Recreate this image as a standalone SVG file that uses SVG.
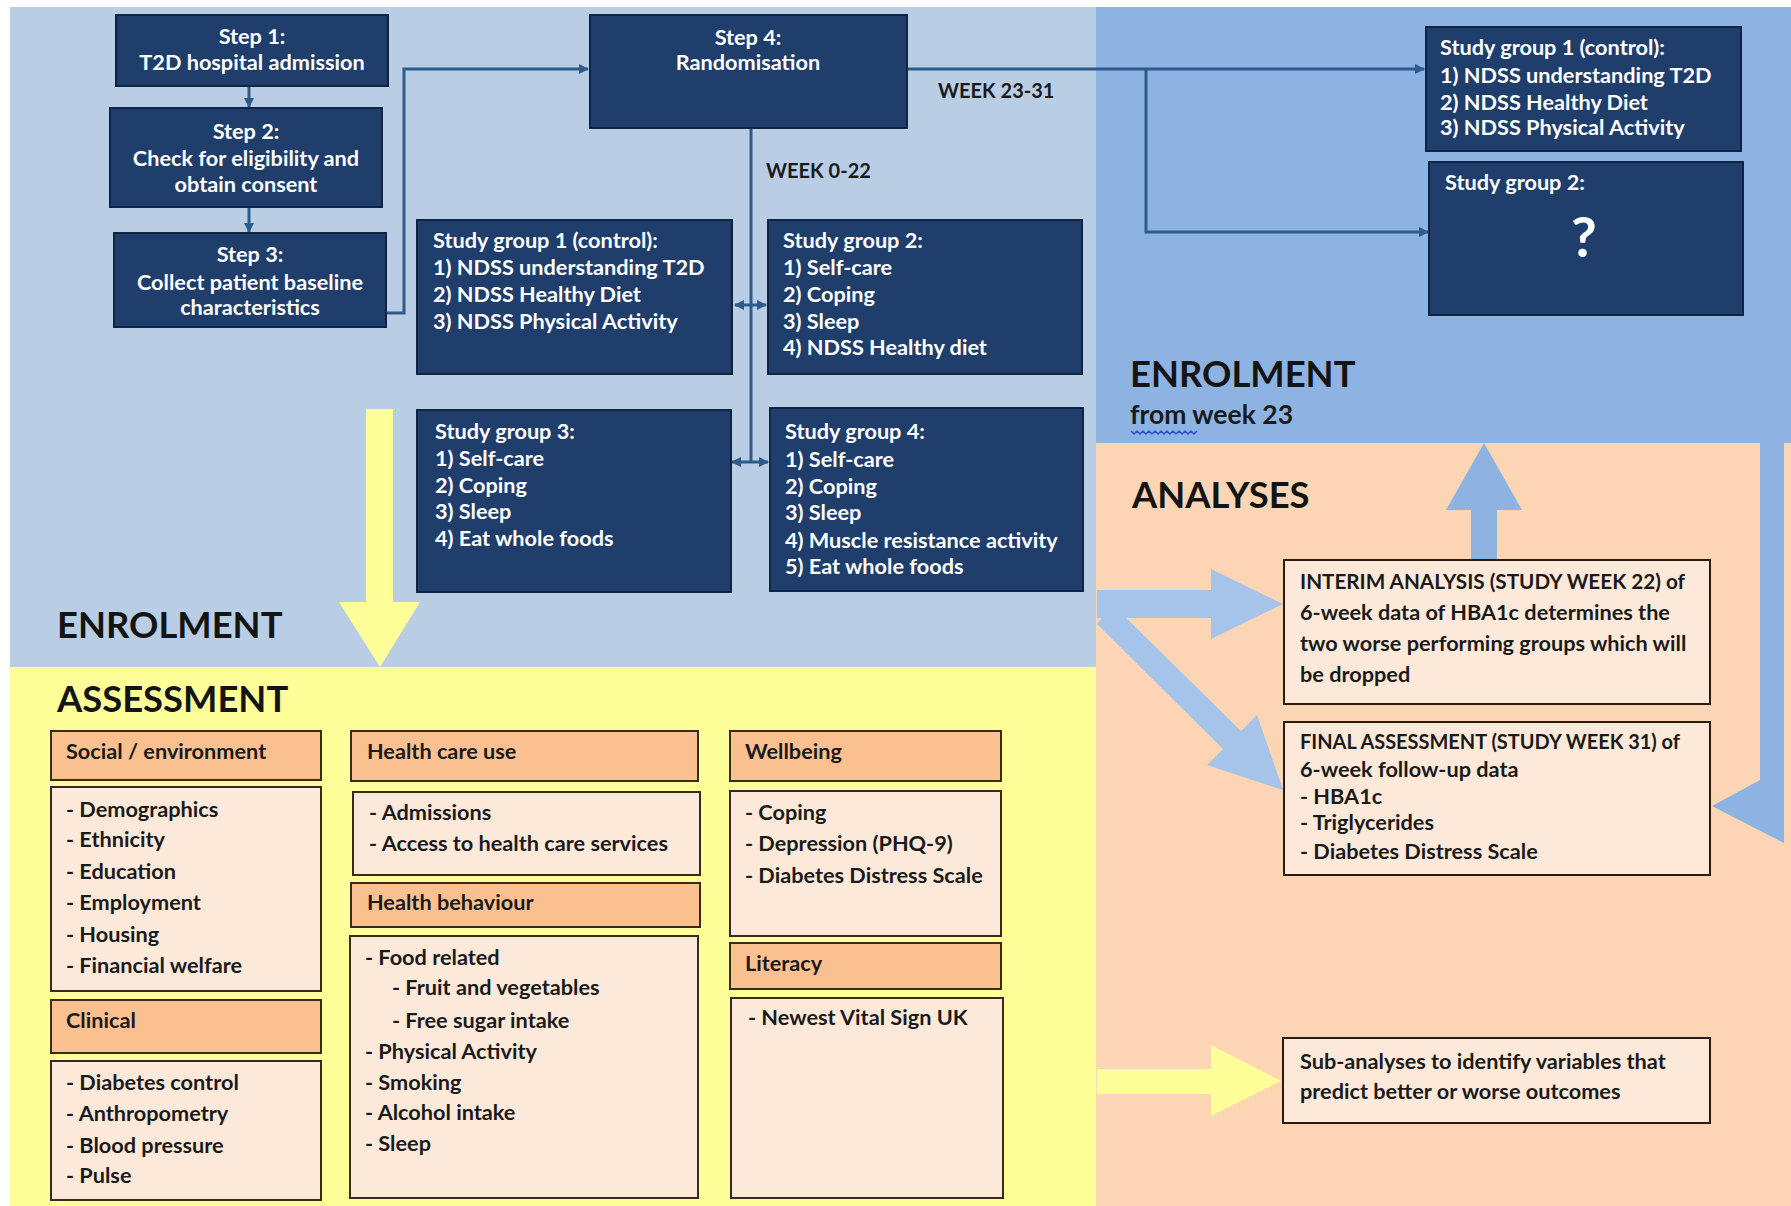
<svg xmlns="http://www.w3.org/2000/svg" width="1791" height="1206" viewBox="0 0 1791 1206">
<defs>
<style>
.lb{fill:#b9cde5}
.mb{fill:#8db3e2}
.pe{fill:#fcd5b5}
.ye{fill:#ffff99}
.dk{fill:#1f3e6c;stroke:#0f2542;stroke-width:2}
.hd{fill:#fac090;stroke:#3a2a1c;stroke-width:2}
.bd{fill:#fde9d9;stroke:#3a2a1c;stroke-width:2}
.ab{fill:#fde9d9;stroke:#2a1a10;stroke-width:2}
text{font-family:Lato,"Open Sans","Liberation Sans",sans-serif;font-weight:bold}
.w{fill:#ffffff;font-size:21.7px}
.wc{fill:#ffffff;font-size:21.7px;text-anchor:middle}
.k{fill:#1a1a1a;font-size:21.7px}
.wk{fill:#1a1a1a;font-size:20px}
.big{fill:#141414;font-size:36.4px}
.conn{fill:none;stroke:#2f5b8a;stroke-width:3}
.yarr{fill:#ffff99}
.barr{fill:#a6c4e9}
.barr2{fill:#8db3e2}
</style>
<marker id="ah" viewBox="0 0 10 10" refX="9" refY="5" markerWidth="10" markerHeight="10" markerUnits="userSpaceOnUse" orient="auto-start-reverse">
<path d="M0,0 L10,5 L0,10 z" fill="#2f5b8a"/>
</marker>
</defs>

<g id="backgrounds">
<rect x="0" y="0" width="1791" height="1206" fill="#ffffff"/>
<rect class="lb" x="10" y="7" width="1087" height="661"/>
<rect class="mb" x="1096" y="7" width="695" height="436"/>
<rect class="pe" x="1096" y="443" width="695" height="763"/>
<rect class="ye" x="10" y="667" width="1086" height="539"/>
</g>

<g id="block-arrows">
<polygon class="yarr" points="366,409 393,409 393,602 420,602 380,667 339,602 366,602"/>
<polygon class="yarr" points="1097,1069 1211,1069 1211,1045 1281,1081 1211,1116 1211,1094 1097,1094"/>
<polygon class="barr2" points="1471,559 1497,559 1497,510 1522,510 1484,443 1446,510 1471,510"/>
<polygon class="barr" points="1097,590 1211,590 1211,569 1283,604 1211,639 1211,618 1097,618"/>
<polygon class="barr" points="1112,604 1241,731 1257,715 1283,790 1207,765 1223,749 1097,624"/>
<polygon class="barr2" points="1760,443 1784,443 1784,843 1712,806 1760,780"/>
</g>

<g id="connectors">
<line class="conn" x1="249" y1="86" x2="249" y2="107" marker-end="url(#ah)"/>
<line class="conn" x1="249" y1="207" x2="249" y2="232" marker-end="url(#ah)"/>
<path class="conn" d="M386,313 H404 V69 H588" marker-end="url(#ah)"/>
<path class="conn" d="M907,69 H1424" marker-end="url(#ah)"/>
<path class="conn" d="M1146,69 V232 H1428" marker-end="url(#ah)"/>
<path class="conn" d="M751,128 V462"/>
<line class="conn" x1="735" y1="305" x2="766" y2="305" marker-start="url(#ah)" marker-end="url(#ah)"/>
<line class="conn" x1="732" y1="462" x2="768" y2="462" marker-start="url(#ah)" marker-end="url(#ah)"/>
</g>

<g id="step1">
<rect class="dk" x="116" y="15" width="272" height="71"/>
<text class="wc" x="252" y="44">Step 1:</text>
<text class="wc" x="252" y="70">T2D hospital admission</text>
</g>
<g id="step2">
<rect class="dk" x="110" y="108" width="272" height="99"/>
<text class="wc" x="246" y="139">Step 2:</text>
<text class="wc" x="246" y="166">Check for eligibility and</text>
<text class="wc" x="246" y="192">obtain consent</text>
</g>
<g id="step3">
<rect class="dk" x="114" y="233" width="272" height="94"/>
<text class="wc" x="250" y="262">Step 3:</text>
<text class="wc" x="250" y="290">Collect patient baseline</text>
<text class="wc" x="250" y="315">characteristics</text>
</g>
<g id="step4">
<rect class="dk" x="590" y="15" width="317" height="113"/>
<text class="wc" x="748" y="45">Step 4:</text>
<text class="wc" x="748" y="70">Randomisation</text>
</g>

<g id="week-labels">
<text class="wk" x="938" y="98">WEEK 23-31</text>
<text class="wk" x="766" y="178">WEEK 0-22</text>
</g>

<g id="sg1">
<rect class="dk" x="417" y="220" width="315" height="154"/>
<text class="w" x="433" y="248">Study group 1 (control):</text>
<text class="w" x="433" y="275">1) NDSS understanding T2D</text>
<text class="w" x="433" y="302">2) NDSS Healthy Diet</text>
<text class="w" x="433" y="329">3) NDSS Physical Activity</text>
</g>
<g id="sg2">
<rect class="dk" x="768" y="220" width="314" height="154"/>
<text class="w" x="783" y="248">Study group 2:</text>
<text class="w" x="783" y="275">1) Self-care</text>
<text class="w" x="783" y="302">2) Coping</text>
<text class="w" x="783" y="329">3) Sleep</text>
<text class="w" x="783" y="355">4) NDSS Healthy diet</text>
</g>
<g id="sg3">
<rect class="dk" x="417" y="410" width="314" height="182"/>
<text class="w" x="435" y="439">Study group 3:</text>
<text class="w" x="435" y="466">1) Self-care</text>
<text class="w" x="435" y="493">2) Coping</text>
<text class="w" x="435" y="519">3) Sleep</text>
<text class="w" x="435" y="546">4) Eat whole foods</text>
</g>
<g id="sg4">
<rect class="dk" x="770" y="408" width="313" height="183"/>
<text class="w" x="785" y="439">Study group 4:</text>
<text class="w" x="785" y="467">1) Self-care</text>
<text class="w" x="785" y="494">2) Coping</text>
<text class="w" x="785" y="520">3) Sleep</text>
<text class="w" x="785" y="548">4) Muscle resistance activity</text>
<text class="w" x="785" y="574">5) Eat whole foods</text>
</g>

<g id="sg1-late">
<rect class="dk" x="1426" y="27" width="315" height="124"/>
<text class="w" x="1440" y="55">Study group 1 (control):</text>
<text class="w" x="1440" y="83">1) NDSS understanding T2D</text>
<text class="w" x="1440" y="110">2) NDSS Healthy Diet</text>
<text class="w" x="1440" y="135">3) NDSS Physical Activity</text>
</g>
<g id="sg2-late">
<rect class="dk" x="1429" y="162" width="314" height="153"/>
<text class="w" x="1445" y="190">Study group 2:</text>
<text class="wc" x="1584" y="257" style="font-size:56px">?</text>
</g>

<g id="section-labels">
<text class="big" x="1130" y="387">ENROLMENT</text>
<text class="k" x="1130" y="424" style="font-size:26.5px">from week 23</text>
<polyline points="1131,431 1134,434 1137,431 1140,434 1143,431 1146,434 1149,431 1152,434 1155,431 1158,434 1161,431 1164,434 1167,431 1170,434 1173,431 1176,434 1179,431 1182,434 1185,431 1188,434 1191,431 1194,434 1197,431" fill="none" stroke="#3050d0" stroke-width="1.5"/>
<text class="big" x="1132" y="508">ANALYSES</text>
<text class="big" x="57" y="638">ENROLMENT</text>
<text class="big" x="57" y="712">ASSESSMENT</text>
</g>

<g id="social">
<rect class="hd" x="51" y="731" width="270" height="49"/>
<text class="k" x="66" y="759">Social / environment</text>
<rect class="bd" x="51" y="787" width="270" height="204"/>
<text class="k" x="66" y="817">- Demographics</text>
<text class="k" x="66" y="847">- Ethnicity</text>
<text class="k" x="66" y="879">- Education</text>
<text class="k" x="66" y="910">- Employment</text>
<text class="k" x="66" y="942">- Housing</text>
<text class="k" x="66" y="973">- Financial welfare</text>
</g>
<g id="clinical">
<rect class="hd" x="51" y="1000" width="270" height="53"/>
<text class="k" x="66" y="1028">Clinical</text>
<rect class="bd" x="51" y="1061" width="270" height="139"/>
<text class="k" x="66" y="1090">- Diabetes control</text>
<text class="k" x="66" y="1121">- Anthropometry</text>
<text class="k" x="66" y="1153">- Blood pressure</text>
<text class="k" x="66" y="1183">- Pulse</text>
</g>
<g id="healthcare">
<rect class="hd" x="351" y="731" width="347" height="50"/>
<text class="k" x="367" y="759">Health care use</text>
<rect class="bd" x="353" y="792" width="347" height="83"/>
<text class="k" x="369" y="820">- Admissions</text>
<text class="k" x="369" y="851">- Access to health care services</text>
</g>
<g id="behaviour">
<rect class="hd" x="351" y="883" width="349" height="44"/>
<text class="k" x="367" y="910">Health behaviour</text>
<rect class="bd" x="350" y="936" width="348" height="262"/>
<text class="k" x="365" y="965">- Food related</text>
<text class="k" x="392" y="995">- Fruit and vegetables</text>
<text class="k" x="392" y="1028">- Free sugar intake</text>
<text class="k" x="365" y="1059">- Physical Activity</text>
<text class="k" x="365" y="1090">- Smoking</text>
<text class="k" x="365" y="1120">- Alcohol intake</text>
<text class="k" x="365" y="1151">- Sleep</text>
</g>
<g id="wellbeing">
<rect class="hd" x="730" y="731" width="271" height="50"/>
<text class="k" x="745" y="759">Wellbeing</text>
<rect class="bd" x="730" y="791" width="271" height="145"/>
<text class="k" x="745" y="820">- Coping</text>
<text class="k" x="745" y="851">- Depression (PHQ-9)</text>
<text class="k" x="745" y="883">- Diabetes Distress Scale</text>
</g>
<g id="literacy">
<rect class="hd" x="730" y="943" width="271" height="46"/>
<text class="k" x="745" y="971">Literacy</text>
<rect class="bd" x="731" y="998" width="272" height="200"/>
<text class="k" x="748" y="1025">- Newest Vital Sign UK</text>
</g>

<g id="interim">
<rect class="ab" x="1284" y="560" width="426" height="144"/>
<text class="k" x="1300" y="589" textLength="385" lengthAdjust="spacingAndGlyphs">INTERIM ANALYSIS (STUDY WEEK 22) of</text>
<text class="k" x="1300" y="620">6-week data of HBA1c determines the</text>
<text class="k" x="1300" y="651">two worse performing groups which will</text>
<text class="k" x="1300" y="682">be dropped</text>
</g>
<g id="final">
<rect class="ab" x="1284" y="722" width="426" height="153"/>
<text class="k" x="1300" y="749" textLength="380" lengthAdjust="spacingAndGlyphs">FINAL ASSESSMENT (STUDY WEEK 31) of</text>
<text class="k" x="1300" y="777">6-week follow-up data</text>
<text class="k" x="1300" y="804">- HBA1c</text>
<text class="k" x="1300" y="830">- Triglycerides</text>
<text class="k" x="1300" y="859">- Diabetes Distress Scale</text>
</g>
<g id="subanalyses">
<rect class="ab" x="1283" y="1038" width="427" height="85"/>
<text class="k" x="1300" y="1069">Sub-analyses to identify variables that</text>
<text class="k" x="1300" y="1099">predict better or worse outcomes</text>
</g>
</svg>
